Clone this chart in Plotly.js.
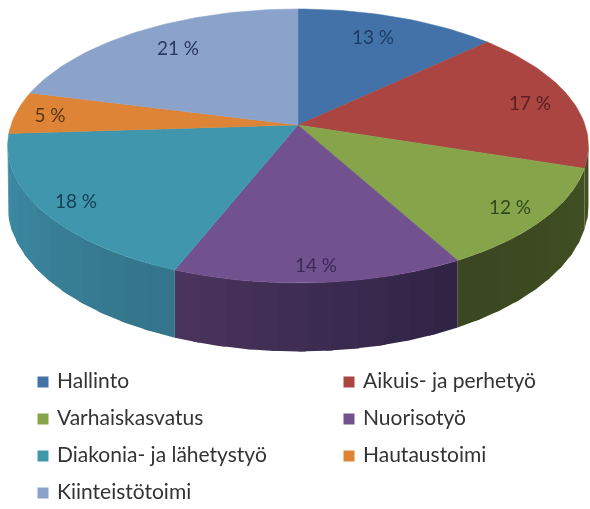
<!DOCTYPE html>
<html>
<head>
<meta charset="utf-8">
<script src="https://cdn.plot.ly/plotly-3.0.1.min.js"></script>
<style>
html,body{margin:0;padding:0;background:#fff;}
#chart{width:590px;height:509px;filter:blur(0.55px);}
</style>
</head>
<body>
<div id="chart"></div>
<script>
const categories = ["Hallinto","Aikuis- ja perhetyö","Varhaiskasvatus","Nuorisotyö","Diakonia- ja lähetystyö","Hautaustoimi","Kiinteistötoimi"];
const values = [13,17,12,14,18,5,21];
const topColors = ["#4272a8","#aa4542","#86a44a","#72518f","#3f96ad","#dd8437","#8ba2cb"];
const wallFrom = ["#2f5078","#414f23","#414f23","#2f2344","#337489","#8f5523","#5a6a85"];
const wallTo = ["#2f5078","#414f23","#3a4620","#4b345e","#3d8ca6","#8f5523","#5a6a85"];
const labelColors = ["#1f3a66","#5a1f1e","#2f4a1a","#3a2a58","#153f55","#5a3515","#2a3a5e"];
const labelX = [373,530,510,316,76,50,178];
const labelY = [39,105,209,267,203,117,50];
const legendMarkerX = [43,349,43,349,43,349,43];
const legendTextX = [57,363,57,363,57,363,57];
const legendMarkerY = [382,382,419,419,456,456,493];
const legendTextY = [383,383,420,420,457,457,494];

const cx=298, cy=125, ra=287, rb=133.8, persp=0.153, depth=58;
const total = values.reduce((a,b)=>a+b,0);
const tangent = Math.acos(-persp)*180/Math.PI;

function project(thetaDeg, r){
  const t = thetaDeg*Math.PI/180;
  const u = r*Math.sin(t), v = r*Math.cos(t);
  const w = 1 + persp*v;
  return {x: cx + ra*u/w, y: cy - rb*v/w, w: w};
}
function hex(c){return [1,3,5].map(i=>parseInt(c.substr(i,2),16));}
function mix(a,b,f){
  const A=hex(a),B=hex(b);
  return "rgb("+A.map((v,i)=>Math.round(v+(B[i]-v)*f)).join(",")+")";
}

const wallTraces=[], topTraces=[];
let acc=0;
values.forEach((val,i)=>{
  const start=acc/total*360, end=(acc+val)/total*360;
  acc+=val;
  // side wall, visible front part only
  const a=Math.max(start,tangent), b=Math.min(end,360-tangent);
  if(b>a){
    const strips=Math.max(2,Math.ceil((b-a)/5));
    for(let s=0;s<strips;s++){
      const t1=a+(b-a)*s/strips, t2=Math.min(b,a+(b-a)*(s+1)/strips+1.2);
      const xs=[],ys=[];
      for(let q=0;q<=4;q++){const p=project(t1+(t2-t1)*q/4,1);xs.push(p.x);ys.push(p.y);}
      for(let q=4;q>=0;q--){const p=project(t1+(t2-t1)*q/4,1);xs.push(p.x);ys.push(p.y+depth/p.w);}
      const col=mix(wallFrom[i],wallTo[i],(s+0.5)/strips);
      wallTraces.push({type:"scatter",mode:"lines",x:xs,y:ys,fill:"toself",fillcolor:col,
        line:{color:col,width:0},hoverinfo:"skip",showlegend:false});
    }
  }
  // top face
  const xs=[cx],ys=[cy];
  const n=Math.ceil((end-start)/1.5);
  for(let q=0;q<=n;q++){const p=project(start+(end-start)*q/n,1);xs.push(p.x);ys.push(p.y);}
  xs.push(cx);ys.push(cy);
  topTraces.push({type:"scatter",mode:"lines",name:categories[i],x:xs,y:ys,fill:"toself",
    fillcolor:topColors[i],line:{color:topColors[i],width:0.5},
    text:categories[i]+": "+val+" %",hoverinfo:"text",showlegend:false});
});

const pieLabels={type:"scatter",mode:"text",x:labelX,y:labelY,
  text:values.map(v=>v+" %"),textposition:"middle center",
  textfont:{family:"Lato, Carlito, sans-serif",size:19,color:labelColors},
  hoverinfo:"skip",showlegend:false};
const legendMarks={type:"scatter",mode:"markers",x:legendMarkerX,y:legendMarkerY,
  marker:{symbol:"square",size:11,color:topColors},hoverinfo:"skip",showlegend:false};
const legendTexts={type:"scatter",mode:"text",x:legendTextX,y:legendTextY,text:categories,
  textposition:"middle right",
  textfont:{family:"Lato, Carlito, sans-serif",size:21,color:"#333333"},
  hoverinfo:"skip",showlegend:false};

const layout={
  width:590,height:509,margin:{l:0,r:0,t:0,b:0},
  paper_bgcolor:"#ffffff",plot_bgcolor:"#ffffff",showlegend:false,
  xaxis:{range:[0,590],visible:false,fixedrange:true},
  yaxis:{range:[509,0],visible:false,fixedrange:true}
};
Plotly.newPlot("chart",[...wallTraces,...topTraces,pieLabels,legendMarks,legendTexts],layout,{displayModeBar:false});
</script>
</body>
</html>
